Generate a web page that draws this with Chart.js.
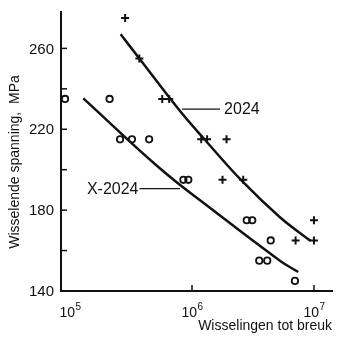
<!DOCTYPE html>
<html lang="nl">
<head>
    <meta charset="UTF-8">
    <title>Wöhlerkrommen 2024 / X-2024</title>
    <script src="https://cdn.jsdelivr.net/npm/chart.js"></script>
    <style>
        html, body { margin: 0; padding: 0; background: #fff; }
        #wrap { width: 350px; height: 340px; }
    </style>
</head>
<body>
    <div id="wrap"><canvas id="snChart"></canvas></div>
    <script>
    // meetpunten 2024 (+)
    const n2024 = [2.83e5, 3.7e5, 5.7e5, 6.5e5, 1.19e6, 1.33e6, 1.92e6, 1.78e6, 2.63e6, 7.07e6, 1.0e7, 1.0e7];
    const s2024 = [275, 255, 235, 235, 215, 215, 215, 195, 195, 165, 165, 175];

    // meetpunten X-2024 (o)
    const nX2024 = [9.1e4, 2.11e5, 2.57e5, 3.22e5, 4.45e5, 8.5e5, 9.33e5, 2.81e6, 3.12e6, 4.42e6, 3.56e6, 4.14e6, 6.98e6];
    const sX2024 = [235, 235, 215, 215, 215, 195, 195, 175, 175, 165, 155, 155, 145];

    // gemiddelde krommen
    const curveN2024 = [2.6e5, 3.7e5, 7.98e5, 1.28e6, 2.58e6, 5.26e6, 9.4e6];
    const curveS2024 = [267, 255, 229, 214.7, 194.3, 176.5, 164.7];
    const curveNX = [1.285e5, 5.47e5, 1.5e6, 5.26e6, 7.43e6];
    const curveSX = [235.3, 200.6, 179.8, 155, 149.4];

    // assen
    const yTicks = [140, 160, 180, 200, 220, 240, 260];
    const yTickLabels = ['140', '', '180', '', '220', '', '260'];
    const xExponents = [5, 6, 7];
    const xTickMarks = [1e6, 1e7];

    const toXY = (xs, ys) => xs.map((x, i) => ({ x: x, y: ys[i] }));

    const FONT = '"Liberation Sans", Arial, sans-serif';
    const INK = '#111';

    const axisDecor = {
        id: 'axisDecor',
        afterDraw(chart) {
            const ctx = chart.ctx;
            const xs = chart.scales.x, ys = chart.scales.y;
            const area = chart.chartArea;
            ctx.save();
            ctx.strokeStyle = INK;
            ctx.fillStyle = INK;
            ctx.lineWidth = 1.5;

            // y-streepjes naar binnen + labels
            ctx.font = '15px ' + FONT;
            ctx.textAlign = 'right';
            ctx.textBaseline = 'middle';
            yTicks.forEach((v, i) => {
                const y = ys.getPixelForValue(v);
                if (v > ys.min) {
                    ctx.beginPath();
                    ctx.moveTo(area.left, y);
                    ctx.lineTo(area.left + 6, y);
                    ctx.stroke();
                }
                if (yTickLabels[i]) ctx.fillText(yTickLabels[i], area.left - 7, y + 1);
            });

            // x-streepjes naar binnen
            xTickMarks.forEach(v => {
                const x = xs.getPixelForValue(v);
                ctx.beginPath();
                ctx.moveTo(x, area.bottom);
                ctx.lineTo(x, area.bottom - 6);
                ctx.stroke();
            });

            // 10^n labels
            xExponents.forEach(e => {
                const x = xs.getPixelForValue(Math.pow(10, e));
                ctx.font = '14px ' + FONT;
                const wBase = ctx.measureText('10').width;
                ctx.font = '10px ' + FONT;
                const wExp = ctx.measureText(String(e)).width;
                const left = x - (wBase + wExp) / 2;
                ctx.textAlign = 'left';
                ctx.textBaseline = 'alphabetic';
                ctx.font = '14px ' + FONT;
                ctx.fillText('10', left, area.bottom + 26);
                ctx.font = '10px ' + FONT;
                ctx.fillText(String(e), left + wBase + 0.5, area.bottom + 19);
            });

            // astitels
            ctx.font = '14px ' + FONT;
            ctx.textAlign = 'right';
            ctx.textBaseline = 'middle';
            ctx.fillText('Wisselingen tot breuk', area.right, area.bottom + 35);

            ctx.save();
            ctx.translate(15, 162);
            ctx.rotate(-Math.PI / 2);
            ctx.textAlign = 'center';
            ctx.fillText('Wisselende spanning,  MPa', 0, 0);
            ctx.restore();

            // kromme-labels met verwijslijn
            ctx.lineWidth = 1.3;
            ctx.font = '16px ' + FONT;
            ctx.textBaseline = 'middle';
            const y1 = ys.getPixelForValue(230);
            const a1 = xs.getPixelForValue(8.3e5), b1 = xs.getPixelForValue(1.7e6);
            ctx.beginPath(); ctx.moveTo(a1, y1); ctx.lineTo(b1, y1); ctx.stroke();
            ctx.textAlign = 'left';
            ctx.fillText('2024', b1 + 4, y1 + 1);

            const y2 = ys.getPixelForValue(190.6);
            const a2 = xs.getPixelForValue(3.71e5), b2 = xs.getPixelForValue(7.97e5);
            ctx.beginPath(); ctx.moveTo(a2, y2); ctx.lineTo(b2, y2); ctx.stroke();
            ctx.textAlign = 'right';
            ctx.fillText('X-2024', a2 - 1, y2 + 1);

            ctx.restore();
        }
    };

    const ctx = document.getElementById('snChart').getContext('2d');
    const snChart = new Chart(ctx, {
        type: 'scatter',
        data: {
            datasets: [
                {
                    label: '2024',
                    data: toXY(n2024, s2024),
                    pointStyle: 'cross',
                    pointRadius: 4,
                    borderColor: INK,
                    borderWidth: 2,
                    showLine: false
                },
                {
                    label: 'X-2024',
                    data: toXY(nX2024, sX2024),
                    pointStyle: 'circle',
                    pointRadius: 3.2,
                    backgroundColor: 'rgba(255,255,255,0)',
                    borderColor: INK,
                    borderWidth: 1.8,
                    showLine: false
                },
                {
                    label: 'kromme 2024',
                    data: toXY(curveN2024, curveS2024),
                    showLine: true,
                    pointRadius: 0,
                    borderColor: INK,
                    borderWidth: 2.5,
                    tension: 0.4
                },
                {
                    label: 'kromme X-2024',
                    data: toXY(curveNX, curveSX),
                    showLine: true,
                    pointRadius: 0,
                    borderColor: INK,
                    borderWidth: 2.5,
                    tension: 0.4
                }
            ]
        },
        options: {
            responsive: true,
            maintainAspectRatio: false,
            animation: false,
            clip: false,
            layout: { padding: { left: 61, right: 18, top: 12, bottom: 49 } },
            plugins: {
                legend: { display: false },
                tooltip: { enabled: false }
            },
            scales: {
                x: {
                    type: 'logarithmic',
                    min: 8.43e4,
                    max: 1.406e7,
                    grid: { display: false, drawTicks: false },
                    border: { display: true, color: INK, width: 2 },
                    ticks: { display: false }
                },
                y: {
                    type: 'linear',
                    min: 140,
                    max: 278,
                    grid: { display: false, drawTicks: false },
                    border: { display: true, color: INK, width: 2 },
                    ticks: { display: false }
                }
            }
        },
        plugins: [axisDecor]
    });
    </script>
</body>
</html>
